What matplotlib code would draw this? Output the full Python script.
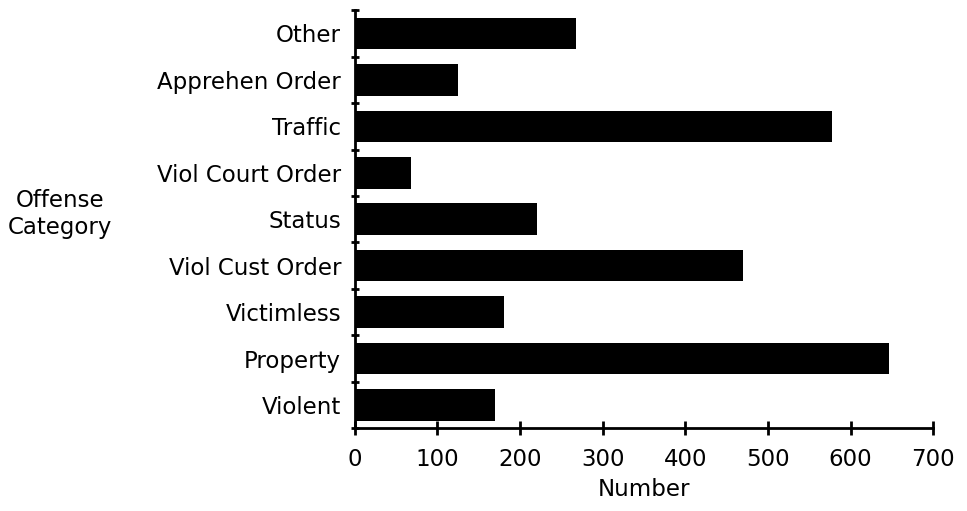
import numpy as np
import matplotlib.pyplot as plt

plt.rcParams['font.family'] = ['DejaVu Sans']

# categories listed bottom to top
categories = ['Violent', 'Property', 'Victimless', 'Viol Cust Order', 'Status',
              'Viol Court Order', 'Traffic', 'Apprehen Order', 'Other']
counts = [170, 646, 180, 470, 220, 68, 577, 125, 268]

fig = plt.figure(figsize=(9.67, 5.11), dpi=100)
ax = fig.add_axes([0.367, 0.162, 0.598, 0.818])

pos = np.arange(len(categories))
ax.barh(pos, counts, height=0.68, color='black')

ax.set_xlim(0, 700)
ax.set_ylim(-0.5, len(categories) - 0.5)

# boundary ticks (no labels) and category labels on minor ticks
ax.set_yticks(np.arange(len(categories) + 1) - 0.5)
ax.set_yticklabels([])
ax.set_yticks(pos, minor=True)
ax.set_yticklabels(categories, minor=True, fontsize=16.5)
ax.tick_params(axis='y', which='minor', length=0, pad=10)
ax.tick_params(axis='y', which='major', direction='inout', length=6, width=2)

ax.set_xticks(range(0, 701, 100))
ax.tick_params(axis='x', direction='inout', length=10, width=2, labelsize=16.5, pad=9)

for s in ['top', 'right']:
    ax.spines[s].set_visible(False)
for s in ['left', 'bottom']:
    ax.spines[s].set_linewidth(2)

ax.set_xlabel('Number', fontsize=16.5, labelpad=5)
ax.set_ylabel('Offense\nCategory', fontsize=16.5, rotation=0, ha='center', va='center')
ax.yaxis.set_label_coords(-0.51, 0.512)

fig.savefig('out.png', dpi=100)
